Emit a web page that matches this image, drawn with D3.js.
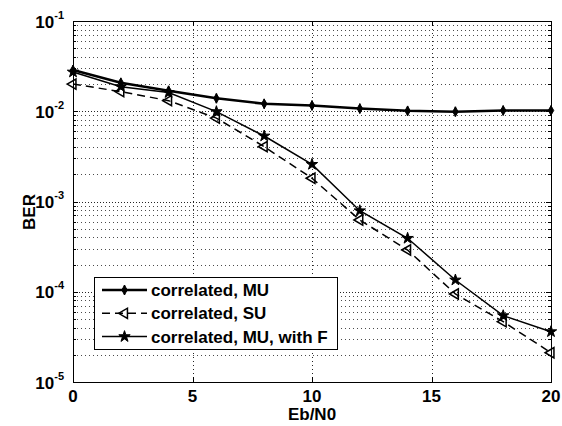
<!DOCTYPE html>
<html>
<head>
<meta charset="utf-8">
<script src="https://cdn.jsdelivr.net/npm/d3@7"></script>
<style>
  html, body { margin: 0; padding: 0; background: #fff; }
  text { font-family: "Liberation Sans", Arial, sans-serif; font-weight: bold; fill: #000; }
</style>
</head>
<body>
<div id="chart"></div>
<script>
// data
const ebn0 = [0, 2, 4, 6, 8, 10, 12, 14, 16, 18, 20];
const berMU = [0.0286, 0.0207, 0.0169, 0.0139, 0.0121, 0.0116, 0.0107, 0.0101, 0.0099, 0.0102, 0.0102];
const berSU = [0.0200, 0.0165, 0.0131, 0.0084, 0.00405, 0.00181, 0.000624, 0.00029, 0.0000944, 0.0000466, 0.0000211];
const berMUF = [0.0272, 0.0187, 0.0161, 0.0099, 0.00532, 0.00258, 0.00079, 0.000391, 0.000135, 0.0000543, 0.0000361];
const xTicks = [0, 5, 10, 15, 20];
const yDecades = [-5, -4, -3, -2, -1];
const legendLabels = ["correlated, MU", "correlated, SU", "correlated, MU, with F"];

const width = 562, height = 426;
const margin = { top: 21, right: 11, bottom: 44, left: 73 };

const svg = d3.select("#chart").append("svg")
    .attr("width", width).attr("height", height)
    .style("background", "#fff");

const x = d3.scaleLinear().domain([0, 20]).range([margin.left, width - margin.right]);
const y = d3.scaleLog().domain([1e-5, 1e-1]).range([height - margin.bottom, margin.top]);

const yMajor = yDecades.map(e => Math.pow(10, e));
const yMinor = [];
yDecades.slice(0, -1).forEach(e => {
    for (let m = 2; m <= 9; m++) yMinor.push(m * Math.pow(10, e));
});

// grid
const grid = svg.append("g").attr("stroke", "#000").attr("stroke-width", 1).attr("shape-rendering", "crispEdges");
grid.selectAll(".gmin").data(yMinor).join("line")
    .attr("x1", x(0)).attr("x2", x(20))
    .attr("y1", d => Math.round(y(d)) + 0.5).attr("y2", d => Math.round(y(d)) + 0.5)
    .attr("stroke-dasharray", "1,3").attr("opacity", 0.7);
grid.selectAll(".gmaj").data(yMajor.slice(1, -1)).join("line")
    .attr("x1", x(0)).attr("x2", x(20))
    .attr("y1", d => Math.round(y(d)) + 0.5).attr("y2", d => Math.round(y(d)) + 0.5)
    .attr("stroke-dasharray", "1,2").attr("opacity", 0.85);
grid.selectAll(".gx").data(xTicks.slice(1, -1)).join("line")
    .attr("x1", d => Math.round(x(d)) + 0.5).attr("x2", d => Math.round(x(d)) + 0.5)
    .attr("y1", y(1e-1)).attr("y2", y(1e-5))
    .attr("stroke-dasharray", "1,3").attr("opacity", 0.85);

// axes (ticks inside, on all four sides)
const plotW = x(20) - x(0), plotH = y(1e-5) - y(1e-1);
const axG = svg.append("g").attr("shape-rendering", "crispEdges");
const styleAxis = g => { g.select(".domain").remove(); g.selectAll("line").attr("stroke", "#000"); };
axG.append("g").attr("transform", `translate(${x(0)},0)`)
    .call(d3.axisLeft(y).tickValues(yMajor).tickSize(-5).tickFormat("")).call(styleAxis);
axG.append("g").attr("transform", `translate(${x(0)},0)`)
    .call(d3.axisLeft(y).tickValues(yMinor).tickSize(-3).tickFormat("")).call(styleAxis);
axG.append("g").attr("transform", `translate(${x(20)},0)`)
    .call(d3.axisRight(y).tickValues(yMajor).tickSize(-5).tickFormat("")).call(styleAxis);
axG.append("g").attr("transform", `translate(${x(20)},0)`)
    .call(d3.axisRight(y).tickValues(yMinor).tickSize(-3).tickFormat("")).call(styleAxis);
axG.append("g").attr("transform", `translate(0,${y(1e-5)})`)
    .call(d3.axisBottom(x).tickValues(xTicks).tickSize(-5).tickFormat("")).call(styleAxis);
axG.append("g").attr("transform", `translate(0,${y(1e-1)})`)
    .call(d3.axisTop(x).tickValues(xTicks).tickSize(-5).tickFormat("")).call(styleAxis);
axG.append("rect")
    .attr("x", x(0) + 0.5).attr("y", y(1e-1) + 0.5)
    .attr("width", plotW).attr("height", plotH)
    .attr("fill", "none").attr("stroke", "#000");

// tick labels
svg.selectAll(".xl").data(xTicks).join("text")
    .attr("x", d => x(d)).attr("y", y(1e-5) + 20)
    .attr("text-anchor", "middle").style("font-size", "17px")
    .text(d => d);
const yl = svg.selectAll(".yl").data(yDecades).join("text")
    .attr("x", 64).attr("y", d => y(Math.pow(10, d)) + 6.5)
    .attr("text-anchor", "end").style("font-size", "17px");
yl.append("tspan").text("10");
yl.append("tspan").attr("dy", -9).style("font-size", "11px").text(d => String(d));

svg.append("text").attr("x", (x(0) + x(20)) / 2).attr("y", 420)
    .attr("text-anchor", "middle").style("font-size", "17px").text("Eb/N0");
svg.append("text").attr("transform", `translate(35,212) rotate(-90)`)
    .attr("text-anchor", "middle").style("font-size", "17px").text("BER");

// series
const series = [
    { v: berMU, w: 2.5, dash: null, sym: "diamond" },
    { v: berSU, w: 1.5, dash: "8,5", sym: "tri" },
    { v: berMUF, w: 1.5, dash: null, sym: "star" }
];
const line = d3.line().x(d => x(d[0])).y(d => y(d[1]));

function drawMarker(g, type) {
    if (type === "diamond") {
        g.append("path").attr("d", d3.symbol(d3.symbolDiamond, 26)())
            .attr("fill", "#000").attr("stroke", "#000").attr("stroke-width", 1);
        g.append("line").attr("y1", -5).attr("y2", 5).attr("stroke", "#000").attr("stroke-width", 1.5);
    } else if (type === "tri") {
        g.append("path").attr("d", d3.symbol(d3.symbolTriangle, 45)())
            .attr("transform", "rotate(-90)")
            .attr("fill", "none").attr("stroke", "#000").attr("stroke-width", 1.5);
    } else {
        g.append("path").attr("d", d3.symbol(d3.symbolStar, 40)())
            .attr("fill", "#000").attr("stroke", "#000").attr("stroke-width", 1);
    }
}

const plot = svg.append("g");
series.forEach(s => {
    const pts = ebn0.map((e, i) => [e, s.v[i]]);
    plot.append("path").datum(pts)
        .attr("fill", "none").attr("stroke", "#000")
        .attr("stroke-width", s.w)
        .attr("stroke-dasharray", s.dash || null)
        .attr("d", line);
    pts.forEach(p => {
        const g = plot.append("g").attr("transform", `translate(${x(p[0])},${y(p[1])})`);
        drawMarker(g, s.sym);
    });
});

// legend
const leg = svg.append("g").attr("transform", "translate(94,277)");
leg.append("rect").attr("x", 0.5).attr("y", 0.5).attr("width", 243).attr("height", 72)
    .attr("fill", "#fff").attr("stroke", "#000").attr("stroke-width", 1);
series.forEach((s, i) => {
    const cy = 13 + i * 23.3;
    leg.append("line").attr("x1", 8).attr("x2", 53).attr("y1", cy).attr("y2", cy)
        .attr("stroke", "#000").attr("stroke-width", s.w)
        .attr("stroke-dasharray", s.dash || null);
    drawMarker(leg.append("g").attr("transform", `translate(30.5,${cy})`), s.sym);
    leg.append("text").attr("x", 57).attr("y", cy + 6)
        .style("font-size", "17px").text(legendLabels[i]);
});
</script>
</body>
</html>
